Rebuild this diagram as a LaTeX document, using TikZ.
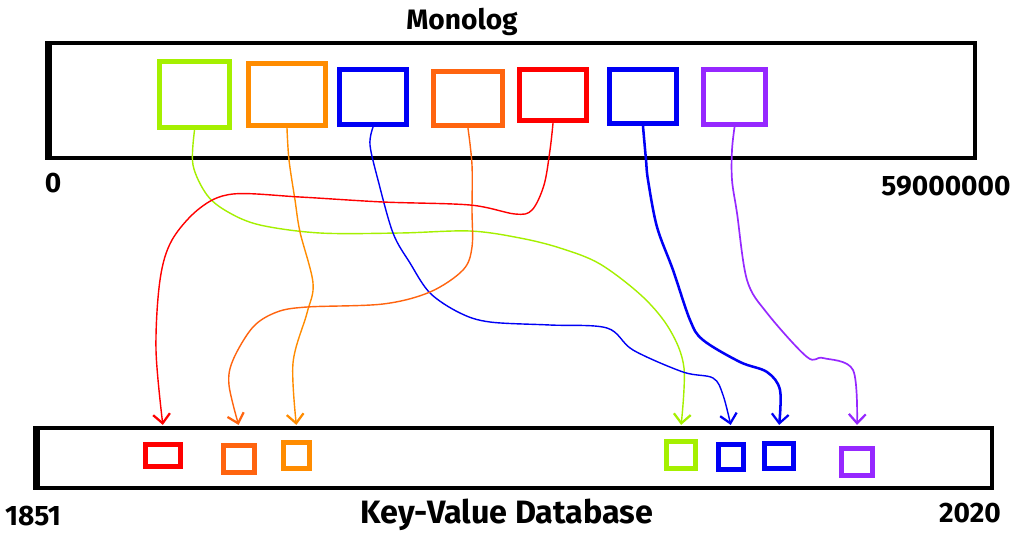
\documentclass[tikz,border=0pt]{standalone}
\usepackage{fontspec}
\setmainfont{Fira Sans}
\usetikzlibrary{arrows.meta}
\definecolor{mlgreen}{RGB}{165,240,0}
\definecolor{mlorange}{RGB}{255,140,0}
\definecolor{mlrust}{RGB}{255,100,15}
\definecolor{mlred}{RGB}{255,0,0}
\definecolor{mlblue}{RGB}{0,0,245}
\definecolor{mlpurple}{RGB}{150,40,255}

\begin{document}
\begin{tikzpicture}[
    x=0.025cm, y=-0.025cm,
    bar/.style={draw, line width=2.4pt, inner sep=0pt},
    blk/.style={draw=#1, line width=4pt, inner sep=0pt},
    dot/.style={draw=#1, line width=3.4pt, inner sep=0pt},
    link/.style={draw=#1, line width=1pt, line cap=round, shorten >=1pt,
        -{Straight Barb[length=6.5pt, width=12pt, line width=1.6pt]}},
    lbl/.style={font=\bfseries\fontsize{20}{24}\selectfont, inner sep=0pt}
]
    \useasboundingbox[fill=white] (0,0) rectangle (1024,548);

    % the two bars
    \node[bar, minimum width=23.125cm, minimum height=2.875cm] (ml) at (512.5,100.5) {};
    \node[bar, minimum width=23.85cm, minimum height=1.5cm] (kv) at (515,458) {};
    \draw[line width=4.5pt] (ml.north west) -- (ml.south west);
    \draw[line width=4pt] (kv.north west) -- (kv.south west);

    % labels
    \node[lbl] (mltitle) at (462,22) {Monolog};
    \node[lbl] (mlmin) at (53,183) {0};
    \node[lbl] (mlmax) at (946,186) {59000000};
    \node[lbl, font=\bfseries\fontsize{23}{27}\selectfont] (kvtitle) at (507,515) {Key-Value Database};
    \node[lbl] (kvmin) at (33,516) {1851};
    \node[lbl] (kvmax) at (970,513) {2020};

    % entries in the monolog
    \node[blk=mlgreen,  minimum width=1.75cm, minimum height=1.65cm] (gA) at (194.5,94.5) {};
    \node[blk=mlorange, minimum width=1.92cm, minimum height=1.55cm] (oA) at (287,94.5) {};
    \node[blk=mlblue,   minimum width=1.67cm, minimum height=1.37cm] (bA) at (373,97) {};
    \node[blk=mlrust,   minimum width=1.72cm, minimum height=1.35cm] (dA) at (468,98.5) {};
    \node[blk=mlred,    minimum width=1.67cm, minimum height=1.27cm] (rA) at (553,95) {};
    \node[blk=mlblue,   minimum width=1.67cm, minimum height=1.35cm] (cA) at (643,96.5) {};
    \node[blk=mlpurple, minimum width=1.55cm, minimum height=1.37cm] (pA) at (734.5,97) {};

    % entries in the key-value store
    \node[dot=mlred,    minimum width=0.88cm, minimum height=0.55cm] (rB) at (163,455.5) {};
    \node[dot=mlrust,   minimum width=0.78cm, minimum height=0.68cm] (dB) at (239,459) {};
    \node[dot=mlorange, minimum width=0.66cm, minimum height=0.66cm] (oB) at (296.5,455.5) {};
    \node[dot=mlgreen,  minimum width=0.73cm, minimum height=0.68cm] (gB) at (681,455) {};
    \node[dot=mlblue,   minimum width=0.63cm, minimum height=0.63cm] (bB) at (731,457) {};
    \node[dot=mlblue,   minimum width=0.73cm, minimum height=0.63cm] (cB) at (779,456) {};
    \node[dot=mlpurple, minimum width=0.78cm, minimum height=0.68cm] (pB) at (857,462) {};

    % where each entry goes
    \draw[link=mlgreen] plot[smooth, tension=0.55] coordinates {(gA.south) (193,165) (207,195) (228,212)
        (260,225) (320,233) (400,233) (470,231) (520,238) (560,248) (600,264) (643,297) (670,330)
        (684,368) (gB |- kv.north)};
    \draw[link=mlorange] plot[smooth, tension=0.55] coordinates {(oA.south) (289,160) (295,200) (300,232)
        (313,283) (307,313) (293,363) (oB |- kv.north)};
    \draw[link=mlblue] plot[smooth, tension=0.55] coordinates {(bA.south) (370,145) (378,180) (393,233)
        (410,263) (430,293) (460,313) (490,322) (550,325) (607,328) (633,350) (683,372) (713,378)
        (723,395) (bB |- kv.north)};
    \draw[link=mlrust] plot[smooth, tension=0.55] coordinates {(dA.south) (472,165) (472,210) (472,247)
        (463,270) (430,292) (383,304) (307,307) (277,312) (253,327) (233,360) (229,385) (dB |- kv.north)};
    \draw[link=mlred] plot[smooth, tension=0.55] coordinates {(rA.south) (550,150) (544,185) (532,210)
        (515,214) (470,205) (383,202) (300,197) (233,194) (200,208) (172,240) (160,280) (156,350)
        (rB |- kv.north)};
    \draw[link=mlblue, line width=1.8pt] plot[smooth, tension=0.55] coordinates {(cA.south) (646,160)
        (648,180) (657,227) (673,270) (690,320) (703,340) (740,362) (767,372) (780,390) (cB |- kv.north)};
    \draw[link=mlpurple, line width=1.2pt] plot[smooth, tension=0.55] coordinates {(pA.south) (732,150)
        (732,180) (737,213) (747,280) (767,313) (807,357) (823,358) (853,370) (pB |- kv.north)};
\end{tikzpicture}
\end{document}
